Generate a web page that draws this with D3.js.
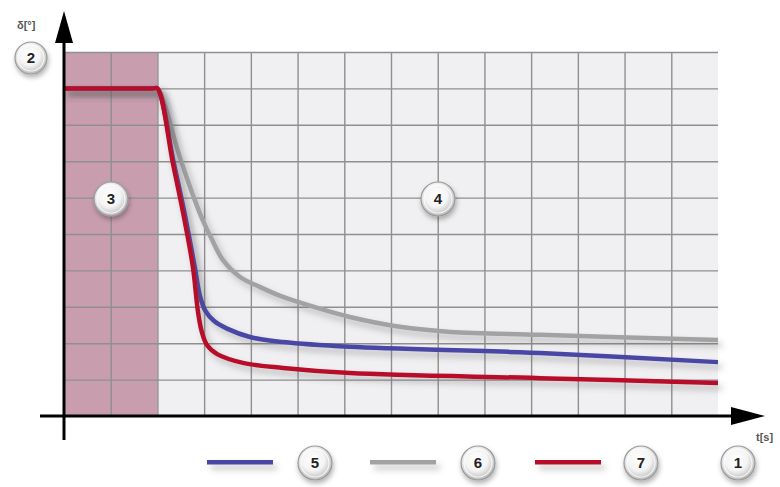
<!DOCTYPE html>
<html><head><meta charset="utf-8">
<script src="https://cdn.jsdelivr.net/npm/d3@7/dist/d3.min.js"></script>
<style>html,body{margin:0;padding:0;background:#fff;}svg{display:block;}</style>
</head><body>
<script>
// ---- data ----
const xDomain = [0, 14];
const yDomain = [0, 10];
const xGridTicks = d3.range(0, 15, 1);
const yGridTicks = d3.range(0, 11, 1);
const shadeRange = [0, 2];

const tRed  = [0, 1.0, 1.9, 2.0, 2.33, 2.55, 2.76, 2.87, 2.95, 3.06, 3.28, 3.83, 4.69, 6.12, 10.19, 14.0];
const vRed  = [9, 9.0, 9.0, 9.0, 6.95, 5.58, 4.09, 2.85, 2.31, 1.95, 1.70, 1.46, 1.32, 1.18, 1.04, 0.91];
const tBlue = [0, 1.0, 1.9, 2.0, 2.35, 2.58, 2.80, 2.91, 3.03, 3.22, 3.49, 3.98, 4.69, 6.12, 10.19, 14.0];
const vBlue = [9, 9.0, 9.0, 9.0, 6.95, 5.58, 4.09, 3.30, 2.88, 2.60, 2.40, 2.17, 2.03, 1.90, 1.73, 1.48];
const tGray = [0, 1.0, 1.9, 2.0, 2.16, 2.40, 2.61, 2.80, 2.97, 3.17, 3.40, 3.77, 4.20, 4.69, 5.42, 6.12, 7.19, 8.27, 10.19, 14.0];
const vGray = [9, 9.0, 9.0, 9.0, 8.54, 7.45, 6.62, 5.93, 5.38, 4.84, 4.29, 3.82, 3.54, 3.27, 2.97, 2.72, 2.45, 2.31, 2.23, 2.09];

const seriesNames = ["5", "6", "7"];
const seriesColors = ["#4a46a6", "#a2a2a2", "#b8102a"];
const badgeLabels = ["1", "2", "3", "4"];

// ---- layout ----
const W = 780, H = 487;
const svg = d3.select("body").append("svg").attr("width", W).attr("height", H);
const x = d3.scaleLinear().domain(xDomain).range([64, 718]);
const y = d3.scaleLinear().domain(yDomain).range([416, 52]);

const defs = svg.append("defs");
const sh = defs.append("filter").attr("id", "lsh").attr("filterUnits", "userSpaceOnUse")
  .attr("x", 0).attr("y", 0).attr("width", W).attr("height", H);
sh.append("feDropShadow").attr("dx", 4).attr("dy", 5).attr("stdDeviation", 3).attr("flood-color", "#555").attr("flood-opacity", 0.35);
const bsh = defs.append("filter").attr("id", "bsh").attr("x", "-50%").attr("y", "-50%").attr("width", "200%").attr("height", "200%");
bsh.append("feDropShadow").attr("dx", 1).attr("dy", 3).attr("stdDeviation", 2.5).attr("flood-color", "#000").attr("flood-opacity", 0.3);
const rg = defs.append("radialGradient").attr("id", "bg").attr("cx", "45%").attr("cy", "40%").attr("r", "60%");
rg.append("stop").attr("offset", "0%").attr("stop-color", "#ffffff");
rg.append("stop").attr("offset", "55%").attr("stop-color", "#f4f4f4");
rg.append("stop").attr("offset", "100%").attr("stop-color", "#b9b9b9");

// plot background
svg.append("rect").attr("x", x(0)).attr("y", y(10)).attr("width", x(14) - x(0)).attr("height", y(0) - y(10)).attr("fill", "#f0f0f2");
// shaded region
svg.append("rect").attr("x", x(shadeRange[0])).attr("y", y(10)).attr("width", x(shadeRange[1]) - x(shadeRange[0])).attr("height", y(0) - y(10)).attr("fill", "#c89eae");

// grid
const gx = svg.append("g").attr("transform", `translate(0,${y(0)})`)
  .call(d3.axisBottom(x).tickValues(xGridTicks.slice(1, -1)).tickSize(-(y(0) - y(10))).tickFormat(""));
gx.select(".domain").remove();
gx.selectAll("line").attr("stroke", "#8f8f8f").attr("stroke-width", 1.4);
const gy = svg.append("g").attr("transform", `translate(${x(0)},0)`)
  .call(d3.axisLeft(y).tickValues(yGridTicks.slice(1)).tickSize(-(x(14) - x(0))).tickFormat(""));
gy.select(".domain").remove();
gy.selectAll("line").attr("stroke", "#8f8f8f").attr("stroke-width", 1.4);

// curves
const line = d3.line().x(d => x(d[0])).y(d => y(d[1])).curve(d3.curveCatmullRom.alpha(0.5));
const series = [d3.zip(tBlue, vBlue), d3.zip(tGray, vGray), d3.zip(tRed, vRed)];
const drawOrder = [1, 0, 2];
drawOrder.forEach(i => {
  svg.append("path").datum(series[i]).attr("d", line).attr("fill", "none")
    .attr("stroke", seriesColors[i]).attr("stroke-width", 4.5).attr("stroke-linejoin", "round")
    .attr("filter", "url(#lsh)");
});

// axes with arrows
svg.append("line").attr("x1", x(0)).attr("y1", 440).attr("x2", x(0)).attr("y2", 38).attr("stroke", "#000").attr("stroke-width", 3);
svg.append("path").attr("d", `M${x(0)},11 L${x(0) - 9},43 L${x(0) + 9},43 Z`).attr("fill", "#000");
svg.append("line").attr("x1", 40).attr("y1", y(0)).attr("x2", 736).attr("y2", y(0)).attr("stroke", "#000").attr("stroke-width", 3);
svg.append("path").attr("d", `M765,${y(0)} L731,${y(0) - 9} L731,${y(0) + 9} Z`).attr("fill", "#000");

svg.append("text").attr("x", 17).attr("y", 29).text("δ[°]")
  .attr("font-family", "Liberation Sans, Arial, sans-serif").attr("font-size", 11).attr("font-weight", "bold").attr("fill", "#555");
svg.append("text").attr("x", 756).attr("y", 441).text("t[s]")
  .attr("font-family", "Liberation Sans, Arial, sans-serif").attr("font-size", 11).attr("font-weight", "bold").attr("fill", "#555");

// badges
function badge(cx, cy, label, r) {
  const g = svg.append("g").attr("transform", `translate(${cx},${cy})`);
  g.append("circle").attr("r", r).attr("fill", "url(#bg)").attr("stroke", "#9a9a9a").attr("stroke-width", 1.2).attr("filter", "url(#bsh)");
  g.append("circle").attr("r", r - 3).attr("fill", "none").attr("stroke", "#fff").attr("stroke-width", 1.2).attr("opacity", 0.8);
  g.append("text").text(label).attr("text-anchor", "middle").attr("dy", "0.36em")
    .attr("font-family", "Liberation Sans, Arial, sans-serif").attr("font-size", 15).attr("font-weight", "bold").attr("fill", "#222");
}
badge(31, 58, badgeLabels[1], 16);
badge(111, 199, badgeLabels[2], 17);
badge(438, 199, badgeLabels[3], 17);
badge(738, 463, badgeLabels[0], 17);

// legend
const legendLineX = [207, 370, 535];
const legendBadgeX = [315, 478, 641];
seriesNames.forEach((n, i) => {
  svg.append("rect").attr("x", legendLineX[i]).attr("y", 460).attr("width", 66).attr("height", 4.5)
    .attr("fill", seriesColors[i]).attr("filter", "url(#lsh)");
  badge(legendBadgeX[i], 463, n, 17);
});
</script>
</body></html>
